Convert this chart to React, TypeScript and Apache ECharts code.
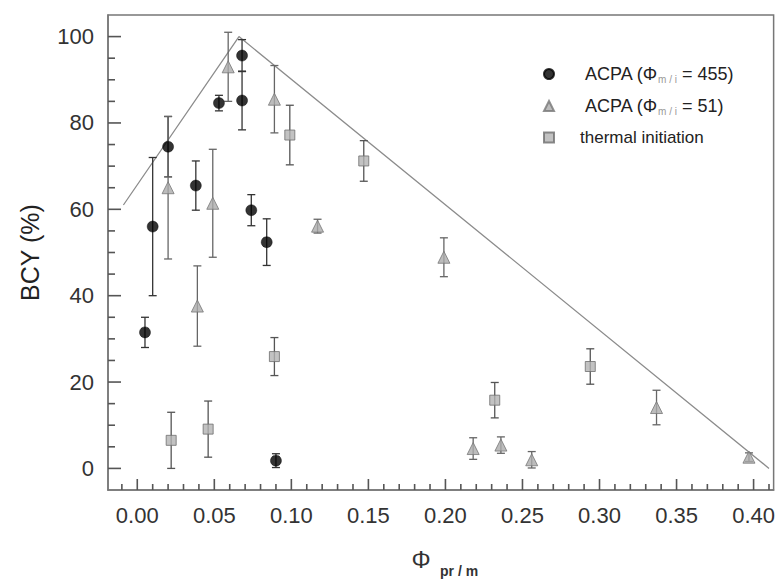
import React, { useEffect, useRef } from "react";
import * as echarts from "echarts";

// ACPA (Φm/i = 455) – black circles
const acpa455X = [0.005, 0.01, 0.02, 0.038, 0.053, 0.068, 0.068, 0.074, 0.084, 0.09];
const acpa455Y = [31.5, 56, 74.5, 65.5, 84.6, 85.2, 95.6, 59.8, 52.4, 1.8];
const acpa455Err = [3.5, 16, 7, 5.7, 1.8, 6.8, 3.7, 3.6, 5.4, 1.6];

// ACPA (Φm/i = 51) – gray triangles
const acpa51X = [0.02, 0.039, 0.049, 0.059, 0.089, 0.117, 0.199, 0.218, 0.236, 0.256, 0.337, 0.397];
const acpa51Y = [65, 37.6, 61.4, 93, 85.5, 56.1, 48.9, 4.6, 5.4, 2.0, 14.1, 2.6];
const acpa51Err = [16.5, 9.3, 12.5, 8, 7.8, 1.6, 4.5, 2.5, 1.9, 1.9, 4, 1];

// thermal initiation – gray squares
const thermalX = [0.022, 0.046, 0.089, 0.099, 0.147, 0.232, 0.294];
const thermalY = [6.5, 9.1, 25.9, 77.2, 71.2, 15.8, 23.6];
const thermalErr = [6.5, 6.5, 4.4, 6.9, 4.7, 4.1, 4.1];

// guide line
const guideX = [-0.009, 0.066, 0.41];
const guideY = [61, 100, 0];

// axis ranges and ticks
const X_MIN = -0.019;
const X_MAX = 0.413;
const Y_MIN = -5;
const Y_MAX = 105;
const xMajorTicks = [0, 0.05, 0.1, 0.15, 0.2, 0.25, 0.3, 0.35, 0.4];
const xMinorTicks = [
  -0.01, 0.01, 0.02, 0.03, 0.04, 0.06, 0.07, 0.08, 0.09, 0.11, 0.12, 0.13, 0.14,
  0.16, 0.17, 0.18, 0.19, 0.21, 0.22, 0.23, 0.24, 0.26, 0.27, 0.28, 0.29,
  0.31, 0.32, 0.33, 0.34, 0.36, 0.37, 0.38, 0.39, 0.41,
];
const yMajorTicks = [0, 20, 40, 60, 80, 100];
const yMinorTicks = [5, 10, 15, 25, 30, 35, 45, 50, 55, 65, 70, 75, 85, 90, 95];

const names = ["ACPA (Φm/i = 455)", "ACPA (Φm/i = 51)", "thermal initiation"];

const FONT = '"Liberation Sans", Arial, Helvetica, sans-serif';
const AXIS = "#777";

function pts(xs: number[], ys: number[]) {
  return xs.map((x, i) => [x, ys[i]]);
}
function errs(xs: number[], ys: number[], es: number[]) {
  return xs.map((x, i) => [x, Math.max(0, ys[i] - es[i]), ys[i] + es[i]]);
}

function errorSeries(data: number[][], color: string) {
  return {
    type: "custom",
    silent: true,
    z: 2,
    encode: { x: 0, y: [1, 2] },
    data,
    renderItem: (params: any, api: any) => {
      const x = api.value(0);
      const lo = api.coord([x, api.value(1)]);
      const hi = api.coord([x, api.value(2)]);
      const w = 4;
      const style = { stroke: color, lineWidth: 1.3 };
      return {
        type: "group",
        children: [
          { type: "line", shape: { x1: lo[0], y1: lo[1], x2: hi[0], y2: hi[1] }, style },
          { type: "line", shape: { x1: hi[0] - w, y1: hi[1], x2: hi[0] + w, y2: hi[1] }, style },
          { type: "line", shape: { x1: lo[0] - w, y1: lo[1], x2: lo[0] + w, y2: lo[1] }, style },
        ],
      };
    },
  };
}

// tick marks: [value along axis, length]
const xTickData = [...xMajorTicks.map((v) => [v, 11]), ...xMinorTicks.map((v) => [v, 6])];
const yTickData = [...yMajorTicks.map((v) => [v, 13]), ...yMinorTicks.map((v) => [v, 7])];

export default function App() {
  const ref = useRef<HTMLDivElement>(null);
  useEffect(() => {
    if (!ref.current) return;
    const chart = echarts.init(ref.current, null, { renderer: "svg" });
    const axisLineStyle = { color: AXIS, width: 1.5 };
    chart.setOption({
      animation: false,
      backgroundColor: "#fff",
      grid: {
        left: 108,
        right: 1,
        top: 15,
        bottom: 91,
        show: true,
        borderColor: AXIS,
        borderWidth: 1.5,
      },
      legend: {
        orient: "vertical",
        left: 538,
        top: 60,
        itemWidth: 10,
        itemHeight: 10,
        itemGap: 13,
        data: names,
        formatter: (name: string) => {
          if (name === names[0]) return "{a|ACPA (Φ}{s|m / i}{b| = 455)}";
          if (name === names[1]) return "{a|ACPA (Φ}{s|m / i}{b| = 51)}";
          return "{t|thermal initiation}";
        },
        textStyle: {
          fontFamily: FONT,
          fontSize: 18,
          color: "#222",
          rich: {
            a: { fontFamily: FONT, fontSize: 18, lineHeight: 20, color: "#222", padding: [0, 0, 0, 26] },
            b: { fontFamily: FONT, fontSize: 18, lineHeight: 20, color: "#222" },
            s: { fontFamily: FONT, fontSize: 10, lineHeight: 10, color: "#999", verticalAlign: "bottom" },
            t: { fontFamily: FONT, fontSize: 17, lineHeight: 20, color: "#222", padding: [0, 0, 0, 21] },
          },
        },
      },
      xAxis: {
        type: "value",
        min: X_MIN,
        max: X_MAX,
        axisLine: { show: true, onZero: false, lineStyle: axisLineStyle },
        axisTick: { show: false },
        axisLabel: {
          customValues: xMajorTicks,
          formatter: (v: number) => v.toFixed(2),
          fontFamily: FONT,
          fontSize: 22,
          color: "#333",
          margin: 14,
        },
        splitLine: { show: false },
      },
      yAxis: {
        type: "value",
        min: Y_MIN,
        max: Y_MAX,
        name: "BCY (%)",
        nameLocation: "middle",
        nameGap: 66,
        nameTextStyle: { fontFamily: FONT, fontSize: 25, color: "#222" },
        axisLine: { show: true, onZero: false, lineStyle: axisLineStyle },
        axisTick: { show: false },
        axisLabel: {
          customValues: yMajorTicks,
          fontFamily: FONT,
          fontSize: 22,
          color: "#333",
          margin: 14,
        },
        splitLine: { show: false },
      },
      graphic: [
        {
          type: "text",
          x: 421,
          y: 559,
          style: { text: "Φ", font: `24px ${FONT}`, fill: "#333", align: "center", verticalAlign: "middle" },
        },
        {
          type: "text",
          x: 440,
          y: 571,
          style: { text: "pr / m", font: `bold 14px ${FONT}`, fill: "#333", align: "left", verticalAlign: "middle" },
        },
      ],
      series: [
        {
          type: "line",
          data: pts(guideX, guideY),
          symbol: "none",
          silent: true,
          z: 1,
          lineStyle: { color: "#8c8c8c", width: 1.3 },
        },
        errorSeries(errs(acpa455X, acpa455Y, acpa455Err), "#333"),
        errorSeries(errs(acpa51X, acpa51Y, acpa51Err), "#666"),
        errorSeries(errs(thermalX, thermalY, thermalErr), "#555"),
        {
          name: names[0],
          type: "scatter",
          z: 5,
          symbol: "circle",
          symbolSize: 11,
          data: pts(acpa455X, acpa455Y),
          itemStyle: { color: "#000", borderColor: "#000", borderWidth: 0.5 },
        },
        {
          name: names[1],
          type: "scatter",
          z: 5,
          symbol: "triangle",
          symbolSize: 12,
          data: pts(acpa51X, acpa51Y),
          itemStyle: { color: "#ababab", borderColor: "#777", borderWidth: 1 },
        },
        {
          name: names[2],
          type: "scatter",
          z: 5,
          symbol: "rect",
          symbolSize: 10,
          data: pts(thermalX, thermalY),
          itemStyle: { color: "#b3b3b3", borderColor: "#6e6e6e", borderWidth: 1 },
        },
        {
          type: "custom",
          silent: true,
          z: 10,
          clip: false,
          encode: { x: 0 },
          data: xTickData,
          renderItem: (params: any, api: any) => {
            const p = api.coord([api.value(0), Y_MIN]);
            const len = api.value(1);
            return {
              type: "line",
              shape: { x1: p[0], y1: p[1], x2: p[0], y2: p[1] - len },
              style: { stroke: "#555", lineWidth: 1.6 },
            };
          },
        },
        {
          type: "custom",
          silent: true,
          z: 10,
          clip: false,
          encode: { y: 0 },
          data: yTickData,
          renderItem: (params: any, api: any) => {
            const p = api.coord([X_MIN, api.value(0)]);
            const len = api.value(1);
            return {
              type: "line",
              shape: { x1: p[0], y1: p[1], x2: p[0] + len, y2: p[1] },
              style: { stroke: "#555", lineWidth: 1.6 },
            };
          },
        },
      ],
    });
    return () => chart.dispose();
  }, []);
  return <div ref={ref} style={{ width: 778, height: 581, position: "absolute", left: 0, top: 0 }} />;
}
